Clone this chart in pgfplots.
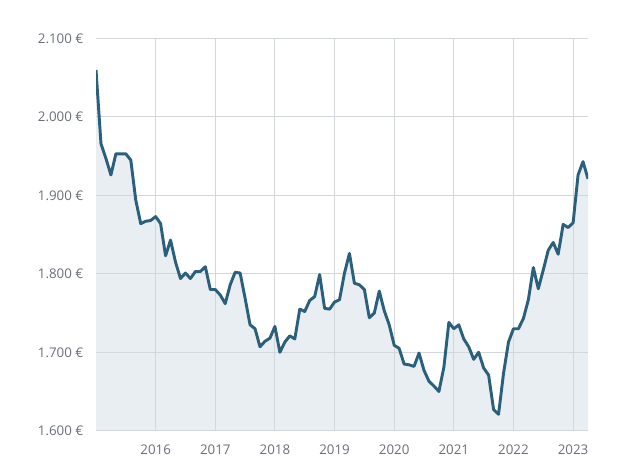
\documentclass[border=0pt]{standalone}
\usepackage{pgfplots}
\pgfplotsset{compat=1.18}
\usepackage{fontspec}
\setmainfont{Open Sans}
\definecolor{linec}{RGB}{42,96,124}
\definecolor{fillc}{RGB}{233,238,243}
\definecolor{gridc}{RGB}{211,214,219}
\definecolor{labc}{RGB}{105,110,120}
\pgfplotstableread{
i v
0 2060
1 1966
2 1947
3 1926
4 1953
5 1953
6 1953
7 1945
8 1894
9 1864
10 1867
11 1868
12 1873
13 1864
14 1823
15 1843
16 1815
17 1794
18 1801
19 1794
20 1803
21 1803
22 1809
23 1780
24 1780
25 1773
26 1762
27 1786
28 1802
29 1801
30 1769
31 1735
32 1730
33 1707
34 1714
35 1718
36 1733
37 1700
38 1713
39 1721
40 1717
41 1755
42 1752
43 1766
44 1771
45 1799
46 1756
47 1755
48 1764
49 1767
50 1801
51 1826
52 1788
53 1786
54 1780
55 1744
56 1750
57 1778
58 1753
59 1735
60 1709
61 1705
62 1685
63 1684
64 1682
65 1699
66 1677
67 1663
68 1657
69 1650
70 1681
71 1738
72 1730
73 1735
74 1717
75 1707
76 1691
77 1700
78 1680
79 1671
80 1627
81 1621
82 1673
83 1713
84 1730
85 1730
86 1743
87 1767
88 1808
89 1781
90 1805
91 1830
92 1840
93 1825
94 1863
95 1859
96 1865
97 1926
98 1943
99 1921
}\datatable
\begin{document}
\begin{tikzpicture}
\path (0,0) rectangle (463.5pt,353.25pt);
\begin{axis}[
  at={(72pt,30.2pt)}, anchor=south west,
  scale only axis, width=369pt, height=294.2pt,
  xmin=0, xmax=99, ymin=1600, ymax=2100,
  axis line style={draw=none},
  xtick={12,24,36,48,60,72,84,96},
  xticklabels={2016,2017,2018,2019,2020,2021,2022,2023},
  ytick={1600,1700,1800,1900,2000,2100},
  yticklabels={1.600 €,1.700 €,1.800 €,1.900 €,2.000 €,2.100 €},
  tick style={draw=none},
  major tick length=0pt,
  grid=major,
  major grid style={gridc, line width=0.75pt},
  tick label style={font=\fontsize{10}{12}\selectfont, text=labc},
  yticklabel style={anchor=east, xshift=-6pt},
  xticklabel style={anchor=north, yshift=-7pt},
  axis background/.style={},
  set layers,
]
\addplot[fill=fillc, draw=none, on layer=axis background] table[x=i, y=v] {\datatable} \closedcycle;
\addplot[linec, line width=2.2pt, line join=round] table[x=i, y=v] {\datatable};
\end{axis}
\end{tikzpicture}
\end{document}
